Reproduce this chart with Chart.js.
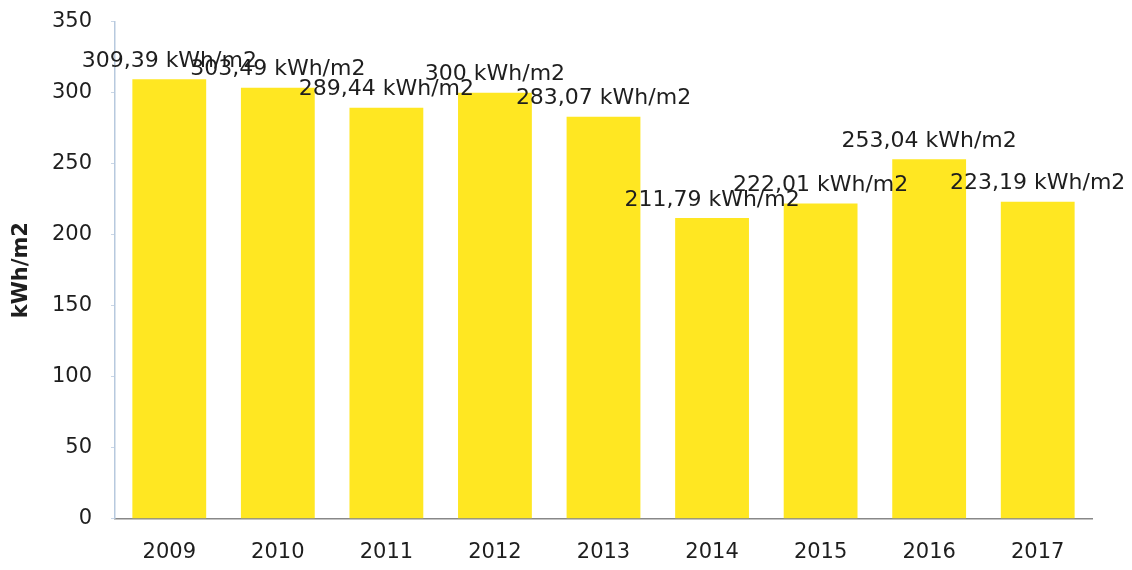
<!DOCTYPE html>
<html>
<head>
<meta charset="utf-8">
<script src="https://cdn.jsdelivr.net/npm/chart.js@4/dist/chart.umd.min.js"></script>
<style>
  html, body { margin: 0; padding: 0; background: #fff; overflow: hidden; }
  #wrap { width: 1132px; height: 580px; margin-top: -10px; }
</style>
</head>
<body>
<div id="wrap"><canvas id="energyChart"></canvas></div>
<script>
const years = ["2009", "2010", "2011", "2012", "2013", "2014", "2015", "2016", "2017"];
const kwhValues = [309.39, 303.49, 289.44, 300, 283.07, 211.79, 222.01, 253.04, 223.19];
const valueLabels = ["309,39 kWh/m2", "303,49 kWh/m2", "289,44 kWh/m2", "300 kWh/m2", "283,07 kWh/m2",
                     "211,79 kWh/m2", "222,01 kWh/m2", "253,04 kWh/m2", "223,19 kWh/m2"];
const yTicks = [0, 50, 100, 150, 200, 250, 300, 350];

// draws the value text above each bar
const barLabels = {
    id: 'barLabels',
    afterDatasetsDraw(chart) {
        const ctx = chart.ctx;
        const meta = chart.getDatasetMeta(0);
        ctx.save();
        ctx.font = '22px "DejaVu Sans", Verdana, sans-serif';
        ctx.fillStyle = '#1e1e1e';
        ctx.textAlign = 'center';
        ctx.textBaseline = 'middle';
        meta.data.forEach((bar, i) => {
            ctx.fillText(valueLabels[i], bar.x, bar.y - 18);
        });
        ctx.restore();
    }
};

Chart.defaults.font.family = '"DejaVu Sans", Verdana, sans-serif';
Chart.defaults.color = '#1e1e1e';

new Chart(document.getElementById('energyChart'), {
    type: 'bar',
    data: {
        labels: years,
        datasets: [{
            data: kwhValues,
            backgroundColor: '#ffe722',
            barPercentage: 0.68,
            categoryPercentage: 1
        }]
    },
    options: {
        responsive: true,
        maintainAspectRatio: false,
        animation: false,
        layout: { padding: { top: 0, right: 40, left: 0, bottom: 0 } },
        plugins: {
            legend: { display: false },
            tooltip: { enabled: false }
        },
        scales: {
            x: {
                grid: { display: false, tickLength: 16 },
                border: { color: '#888', width: 1.5 },
                ticks: { font: { size: 21 }, padding: 5 }
            },
            y: {
                min: 0,
                max: 350,
                afterBuildTicks(axis) { axis.ticks = yTicks.map(v => ({ value: v })); },
                afterFit(axis) { axis.width = 115; },
                grid: { drawOnChartArea: false, tickLength: 4, color: '#c9d6e6' },
                border: { color: '#b7c9de', width: 1.5 },
                ticks: { font: { size: 21 }, padding: 19 },
                title: { display: true, text: 'kWh/m2', font: { size: 21, weight: 'bold' }, padding: { top: 9, bottom: 0 } }
            }
        }
    },
    plugins: [barLabels]
});
</script>
</body>
</html>
